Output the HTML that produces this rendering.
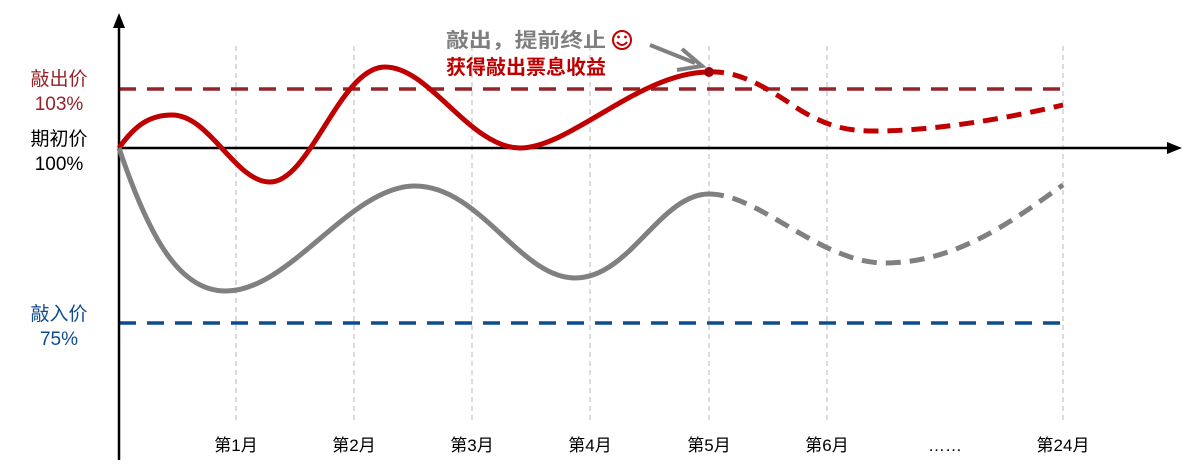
<!DOCTYPE html>
<html><head><meta charset="utf-8"><style>
html,body{margin:0;padding:0;background:#fff;}
svg{display:block;font-family:"Liberation Sans","Noto Sans CJK SC",sans-serif;}
</style></head><body>
<svg width="1194" height="471" viewBox="0 0 1194 471" xmlns="http://www.w3.org/2000/svg">
<g stroke="#c8c8c8" stroke-width="1.3" stroke-dasharray="5,4">
<line x1="236" y1="46" x2="236" y2="422"/>
<line x1="354" y1="46" x2="354" y2="422"/>
<line x1="472" y1="46" x2="472" y2="422"/>
<line x1="590" y1="46" x2="590" y2="422"/>
<line x1="709" y1="46" x2="709" y2="422"/>
<line x1="827" y1="46" x2="827" y2="422"/>
<line x1="1063" y1="46" x2="1063" y2="422"/>
</g>
<line x1="119" y1="89" x2="1060" y2="89" stroke="#952228" stroke-width="3.5" stroke-dasharray="17,11"/>
<line x1="119" y1="323" x2="1060" y2="323" stroke="#0f4c8f" stroke-width="3.5" stroke-dasharray="17,11"/>
<line x1="119" y1="148" x2="1168" y2="148" stroke="#000" stroke-width="2.5"/>
<polygon points="1182,148 1167,142 1167,154" fill="#000"/>
<line x1="119" y1="460" x2="119" y2="25" stroke="#000" stroke-width="2.5"/>
<polygon points="119,13 113,28 125,28" fill="#000"/>
<path d="M119,148 C135,125 150,115 172,115 C210,115 235,182 270,182 C310,182 340,67 385,67 C430,67 470,148 520,148 C570,148 640,72 709,72" fill="none" stroke="#c00000" stroke-width="5"/>
<path d="M709,72 C740,70 770,90 800,110 C830,128 850,131 875,131 C930,131 1000,120 1063,105" fill="none" stroke="#c00000" stroke-width="5" stroke-dasharray="15,9"/>
<circle cx="709" cy="72" r="5" fill="#a00010"/>
<path d="M119,148 C150,240 180,291 226,291 C290,291 350,186 415,186 C480,186 520,278 575,278 C630,278 660,194 709,194" fill="none" stroke="#808080" stroke-width="5"/>
<path d="M709,194 C760,194 820,263 885,263 C960,263 1020,215 1063,185" fill="none" stroke="#808080" stroke-width="5" stroke-dasharray="15,9"/>
<line x1="650" y1="45" x2="695" y2="63" stroke="#808080" stroke-width="4"/>
<polyline points="682,49 702,66 677,70" fill="none" stroke="#808080" stroke-width="4"/>
<text x="446" y="47" font-size="20" font-weight="bold" fill="#7f7f7f" textLength="160" lengthAdjust="spacingAndGlyphs">敲出，提前终止</text>
<g fill="none" stroke="#c00000" stroke-width="2">
<circle cx="622" cy="40" r="9"/>
<path d="M617,42 Q622,48 627,42"/>
</g>
<circle cx="618.5" cy="37" r="1.4" fill="#c00000"/>
<circle cx="625.5" cy="37" r="1.4" fill="#c00000"/>
<text x="446" y="74" font-size="20" font-weight="bold" fill="#c00000" textLength="160" lengthAdjust="spacingAndGlyphs">获得敲出票息收益</text>
<g font-size="19" text-anchor="middle">
<text x="59" y="85" fill="#952228">敲出价</text>
<text x="59" y="110" fill="#952228">103%</text>
<text x="59" y="145" fill="#000">期初价</text>
<text x="59" y="170" fill="#000">100%</text>
<text x="59" y="320" fill="#0f4c8f">敲入价</text>
<text x="59" y="345" fill="#0f4c8f">75%</text>
</g>
<g font-size="17" text-anchor="middle" fill="#000">
<text x="236" y="451">第1月</text>
<text x="354" y="451">第2月</text>
<text x="472" y="451">第3月</text>
<text x="590" y="451">第4月</text>
<text x="709" y="451">第5月</text>
<text x="827" y="451">第6月</text>
<text x="945" y="451">……</text>
<text x="1063" y="451">第24月</text>
</g>
</svg>
</body></html>
